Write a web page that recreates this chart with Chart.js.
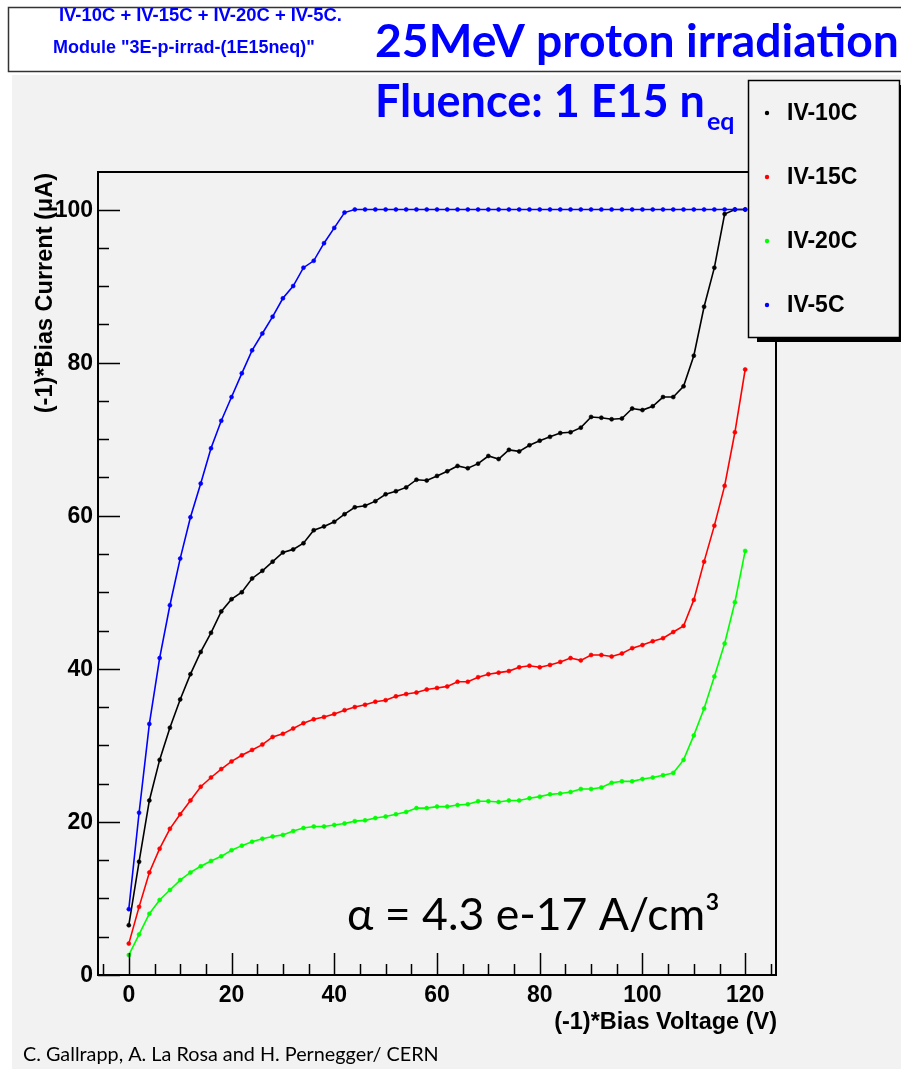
<!DOCTYPE html>
<html>
<head>
<meta charset="utf-8">
<script src="https://cdn.jsdelivr.net/npm/chart.js@4.4.1/dist/chart.umd.min.js"></script>
<style>
  html, body { margin: 0; padding: 0; background: #fff; }
  canvas { display: block; }
</style>
</head>
<body>
<canvas id="ivChart" width="901" height="1069" style="width:901px;height:1069px"></canvas>
<script>
// bias voltage (V), same steps for every measurement
const voltage = [0,2,4,6,8,10,12,14,16,18,20,22,24,26,28,30,32,34,36,38,40,42,44,46,48,50,52,54,56,58,60,62,64,66,68,70,72,74,76,78,80,82,84,86,88,90,92,94,96,98,100,102,104,106,108,110,112,114,116,118,120];

// bias current (uA) per temperature
const iv10C = [6.5,14.8,22.8,28.1,32.3,36.0,39.3,42.2,44.7,47.5,49.1,50.0,51.8,52.8,54.0,55.2,55.6,56.4,58.1,58.6,59.2,60.2,61.1,61.3,61.9,62.8,63.2,63.7,64.7,64.6,65.2,65.8,66.5,66.2,66.8,67.8,67.4,68.6,68.4,69.2,69.8,70.3,70.8,70.9,71.5,72.9,72.8,72.6,72.7,74.0,73.8,74.3,75.5,75.5,76.9,80.9,87.3,92.4,99.4,100,100];
const iv15C = [4.1,8.9,13.4,16.5,19.1,21.0,22.8,24.6,25.8,26.9,27.9,28.7,29.4,30.1,31.1,31.5,32.2,32.9,33.4,33.7,34.1,34.6,35.0,35.3,35.7,35.9,36.4,36.7,36.9,37.3,37.5,37.7,38.3,38.3,38.9,39.3,39.5,39.7,40.2,40.4,40.2,40.5,40.9,41.4,41.1,41.8,41.8,41.6,42.0,42.7,43.1,43.6,44.0,44.8,45.6,49.0,54.0,58.7,63.9,70.9,79.1];
const iv20C = [2.6,5.3,8.0,9.8,11.1,12.4,13.4,14.2,14.9,15.5,16.3,16.9,17.4,17.8,18.1,18.3,18.8,19.2,19.4,19.4,19.6,19.8,20.1,20.2,20.5,20.7,21.0,21.3,21.8,21.8,22.0,22.0,22.2,22.3,22.7,22.7,22.6,22.8,22.8,23.1,23.3,23.6,23.7,23.9,24.3,24.3,24.5,25.1,25.3,25.3,25.6,25.8,26.1,26.4,28.1,31.3,34.8,39.0,43.3,48.7,55.4];
const iv5C = [8.6,21.2,32.8,41.4,48.3,54.4,59.8,64.2,68.8,72.4,75.5,78.6,81.6,83.8,86.0,88.4,90.0,92.4,93.3,95.6,97.6,99.6,100,100,100,100,100,100,100,100,100,100,100,100,100,100,100,100,100,100,100,100,100,100,100,100,100,100,100,100,100,100,100,100,100,100,100,100,100,100,100];

const seriesNames = ["IV-10C", "IV-15C", "IV-20C", "IV-5C"];
const seriesColors = ["#000000", "#ff0000", "#00ff00", "#0000ff"];
const seriesValues = [iv10C, iv15C, iv20C, iv5C];

const xTicks = [0, 20, 40, 60, 80, 100, 120];
const yTicks = [0, 20, 40, 60, 80, 100];

const BG = "#f2f2f2";
const ROOT_FONT = "'Liberation Sans', Arial, sans-serif";
const OFFICE_FONT = "Lato, 'Open Sans', sans-serif";

// font size chosen so the text covers the given width
function fitFont(ctx, text, weight, family, width) {
  ctx.font = weight + " 100px " + family;
  const w = ctx.measureText(text).width;
  return weight + " " + (100 * width / w).toFixed(2) + "px " + family;
}

const rootFrame = {
  id: "rootFrame",
  beforeDraw(chart) {
    const ctx = chart.ctx;
    ctx.save();
    ctx.fillStyle = "#ffffff";
    ctx.fillRect(0, 0, chart.width, chart.height);
    ctx.fillStyle = BG;
    ctx.fillRect(12, 75, chart.width - 12, chart.height - 75);

    // title box
    ctx.fillStyle = "#ffffff";
    ctx.fillRect(8, 7, chart.width, 65);
    ctx.strokeStyle = "#333";
    ctx.lineWidth = 1.5;
    ctx.strokeRect(8.5, 7.5, chart.width + 5, 64);
    ctx.restore();
  },
  afterDatasetsDraw(chart) {
    const ctx = chart.ctx;
    const a = chart.chartArea;
    const xs = chart.scales.x, ys = chart.scales.y;
    ctx.save();

    // frame
    ctx.strokeStyle = "#000";
    ctx.lineWidth = 2;
    ctx.strokeRect(a.left, a.top, a.right - a.left, a.bottom - a.top);

    // inward ticks
    ctx.lineWidth = 1.5;
    ctx.beginPath();
    for (let v = -5; v <= 125; v += 5) {
      const px = Math.round(xs.getPixelForValue(v)) + 0.5;
      const len = xTicks.includes(v) ? 22 : 11;
      ctx.moveTo(px, a.bottom);
      ctx.lineTo(px, a.bottom - len);
    }
    for (let v = 0; v <= 100; v += 5) {
      const py = Math.round(ys.getPixelForValue(v)) + 0.5;
      const len = yTicks.includes(v) ? 22 : 11;
      ctx.moveTo(a.left, py);
      ctx.lineTo(a.left + len, py);
    }
    ctx.stroke();

    // tick labels
    ctx.fillStyle = "#000";
    ctx.font = "bold 23px " + ROOT_FONT;
    ctx.textAlign = "center";
    ctx.textBaseline = "middle";
    xTicks.forEach(v => ctx.fillText(String(v), xs.getPixelForValue(v), a.bottom + 21));
    ctx.textAlign = "right";
    yTicks.forEach(v => ctx.fillText(String(v), a.left - 5, ys.getPixelForValue(v) + 1));

    // axis titles
    ctx.font = "bold 23.5px " + ROOT_FONT;
    ctx.textAlign = "right";
    ctx.fillText("(-1)*Bias Voltage (V)", a.right + 1, a.bottom + 48);
    ctx.save();
    ctx.translate(46, a.top + 1);
    ctx.rotate(-Math.PI / 2);
    ctx.textAlign = "right";
    ctx.fillText("(-1)*Bias Current (\u03BCA)", 0, 0);
    ctx.restore();
    ctx.restore();
  },
  afterDraw(chart) {
    const ctx = chart.ctx;
    ctx.save();
    ctx.textBaseline = "alphabetic";
    ctx.textAlign = "left";

    // small header lines
    ctx.fillStyle = "#0000ff";
    let t = "IV-10C + IV-15C + IV-20C + IV-5C.";
    ctx.font = fitFont(ctx, t, "bold", ROOT_FONT, 283);
    ctx.fillText(t, 59, 21);
    t = "Module \"3E-p-irrad-(1E15neq)\"";
    ctx.font = fitFont(ctx, t, "bold", ROOT_FONT, 262);
    ctx.fillText(t, 53, 53);

    // big titles
    t = "25MeV proton irradiation";
    ctx.font = fitFont(ctx, t, "bold", OFFICE_FONT, 524);
    ctx.fillText(t, 375, 57);
    t = "Fluence: 1 E15 n";
    ctx.font = fitFont(ctx, t, "bold", OFFICE_FONT, 330);
    ctx.fillText(t, 375, 117);
    const wMain = ctx.measureText(t).width;
    ctx.font = "bold 25px " + OFFICE_FONT;
    ctx.fillText("eq", 375 + wMain + 2, 130);

    // alpha annotation
    ctx.fillStyle = "#000";
    t = "\u03B1 = 4.3 e-17 A/cm\u00B3";
    ctx.font = fitFont(ctx, t, "normal", OFFICE_FONT, 373);
    ctx.fillText(t, 347, 930);

    // footer
    t = "C. Gallrapp, A. La Rosa and H. Pernegger/ CERN";
    ctx.font = fitFont(ctx, t, "normal", OFFICE_FONT, 416);
    ctx.fillText(t, 23, 1061);

    // legend box with shadow
    const lx = 748, ly = 80, lw = 151, lh = 257;
    ctx.fillStyle = "#000";
    ctx.fillRect(lx + 9, ly + 5, lw, lh);
    ctx.fillStyle = BG;
    ctx.fillRect(lx, ly, lw, lh);
    ctx.strokeStyle = "#000";
    ctx.lineWidth = 1.5;
    ctx.strokeRect(lx + 0.5, ly + 0.5, lw, lh);
    ctx.font = "bold 23px " + ROOT_FONT;
    ctx.textBaseline = "middle";
    seriesNames.forEach((name, i) => {
      const cy = 113 + i * 64;
      ctx.fillStyle = seriesColors[i];
      ctx.beginPath();
      ctx.arc(767, cy, 2.2, 0, Math.PI * 2);
      ctx.fill();
      ctx.fillStyle = "#000";
      ctx.fillText(name, 787, cy + 1);
    });
    ctx.restore();
  }
};

const datasets = seriesNames.map((name, i) => ({
  label: name,
  data: voltage.map((v, k) => ({ x: v, y: seriesValues[i][k] })),
  showLine: true,
  borderColor: seriesColors[i],
  backgroundColor: seriesColors[i],
  borderWidth: 1.6,
  pointRadius: 2,
  pointBorderWidth: 0.6,
  pointBorderColor: seriesColors[i],
  order: name === "IV-5C" ? 0 : i + 1
}));

new Chart(document.getElementById("ivChart").getContext("2d"), {
  type: "scatter",
  data: { datasets: datasets },
  options: {
    responsive: false,
    animation: false,
    devicePixelRatio: 1,
    layout: { padding: { left: 98, top: 172, right: 125, bottom: 94 } },
    scales: {
      x: { type: "linear", min: -6, max: 126, display: false },
      y: { type: "linear", min: 0, max: 104.9, display: false }
    },
    plugins: {
      legend: { display: false },
      tooltip: { enabled: false }
    }
  },
  plugins: [rootFrame]
});
</script>
</body>
</html>
